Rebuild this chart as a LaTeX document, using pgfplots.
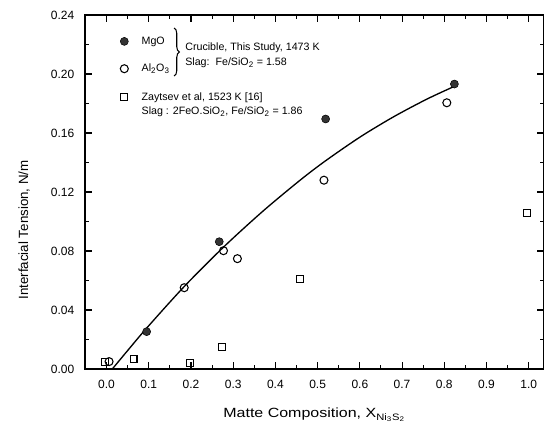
\documentclass[border=0pt]{standalone}
\usepackage{pgfplots}
\pgfplotsset{compat=1.18}
\usepackage{graphicx}
\usepackage{fontspec}
\setmainfont{Liberation Sans}
\usetikzlibrary{decorations.pathreplacing}

\begin{document}
\begin{tikzpicture}
\begin{axis}[
  scale only axis, width=343.9pt, height=265.5pt,
  xmin=-0.051, xmax=1.035, ymin=0, ymax=0.24,
  xtick={0,0.1,...,1.0}, ytick={0,0.04,...,0.24},
  minor x tick num=1, minor y tick num=1,
  tick align=inside, major tick length=5pt, minor tick length=3pt,
  axis line style={line width=1.1pt}, tick style={line width=0.8pt, black},
  /pgf/number format/assume math mode=true,
  xticklabel style={/pgf/number format/.cd,fixed,fixed zerofill,precision=1,/tikz/.cd, yshift=-5pt},
  yticklabel style={/pgf/number format/.cd,fixed,fixed zerofill,precision=2,/tikz/.cd, xshift=-4.5pt},
  tick label style={font=\fontsize{9}{10.5}\selectfont},
  scaled ticks=false,
  label style={font=\fontsize{13.5}{16}\selectfont},
  every axis x label/.style={at={(axis description cs:0.5005,-0.1384)}, anchor=base},
  every axis y label/.style={at={(axis description cs:-0.124,0.393)}, rotate=90, anchor=base},
  xlabel={\scalebox{1.2}[1]{Matte Composition, X\textsubscript{Ni\textsubscript{3}S\textsubscript{2}}}},
  ylabel={Interfacial Tension, N/m},
  legend cell align=left,
  legend style={draw=none, fill=none, at={(axis cs:0.032,0.2273)}, anchor=north west,
    font=\fontsize{8}{9.5}\selectfont, row sep=9.3pt, column sep=8pt, inner sep=0pt},
]
\addplot[black, line width=1pt, smooth, forget plot] coordinates {
  (0.0137,0) (0.05,0.0125) (0.095,0.0277) (0.184,0.0559) (0.277,0.0826) (0.37,0.1069)
  (0.4585,0.128) (0.519,0.1412) (0.6007,0.1573) (0.68,0.171) (0.759,0.1830) (0.826,0.1919)};
\addplot[only marks, mark=*, mark size=3pt, black, fill=black!80] coordinates {
  (0.095,0.0253) (0.267,0.0863) (0.519,0.1695) (0.824,0.1932)};
\addlegendentry{MgO}
\addplot[only marks, mark=o, mark size=3pt, black, line width=0.8pt] coordinates {
  (0.006,0.005) (0.184,0.0551) (0.277,0.0802) (0.310,0.0748) (0.515,0.128) (0.806,0.1805)};
\addlegendentry{Al\textsubscript{2}O\textsubscript{3}}
\addplot[only marks, mark=square, mark size=2.6pt, black, line width=0.8pt] coordinates {
  (-0.004,0.0047) (0.064,0.0066) (0.198,0.0043) (0.274,0.0151) (0.459,0.0608) (0.995,0.1056)};
\addlegendentry{\begin{tabular}[t]{@{}l@{}}Zaytsev et al, 1523 K [16]\\[1pt] Slag : 2FeO.SiO\textsubscript{2}, Fe/SiO\textsubscript{2} = 1.86\end{tabular}}
\draw[decorate, decoration={brace, amplitude=4pt}, line width=0.8pt] (axis cs:0.160,0.2312) -- (axis cs:0.160,0.1986);
\node[anchor=west, font=\fontsize{8}{9.5}\selectfont, inner sep=0pt] at (axis cs:0.186,0.2176) {Crucible, This Study, 1473 K};
\node[anchor=west, font=\fontsize{8}{9.5}\selectfont, inner sep=0pt] at (axis cs:0.186,0.2075) {Slag:\ \ Fe/SiO\textsubscript{2} = 1.58};
\coordinate (bbsw) at (rel axis cs:-0.1854,-0.1667);
\coordinate (bbne) at (rel axis cs:1.0011,1.0424);
\end{axis}
\pgfresetboundingbox
\path[use as bounding box] (bbsw) rectangle (bbne);
\end{tikzpicture}
\end{document}
